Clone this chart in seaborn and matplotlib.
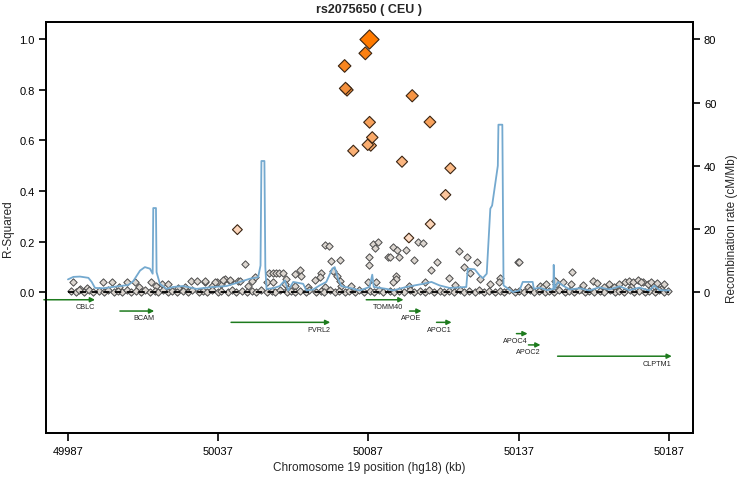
import pandas as pd
import seaborn as sns
import matplotlib.pyplot as plt
from matplotlib.colors import LinearSegmentedColormap

# SNPs with r-squared >= 0.2 (position in kb, r2 with rs2075650)
hi_pos = [50087.1, 50086.0, 50079.1, 50079.4, 50079.9, 50101.6, 50087.4, 50107.5,
          50088.3, 50086.8, 50087.8, 50082.0, 50098.2, 50114.3, 50112.7, 50107.6,
          50100.5, 50043.4]
hi_r2 = [1.0, 0.945, 0.895, 0.806, 0.80, 0.777, 0.672, 0.673,
         0.612, 0.583, 0.58, 0.559, 0.516, 0.49, 0.385, 0.269,
         0.214, 0.247]

# SNPs with low r-squared
lo_pos = [50088.5, 50090.2, 50089.1, 50095.2, 50096.5, 50099.4, 50103.5, 50105.2,
          50087.1, 50087.1, 50093.5, 50094.1, 50097.2, 50102.1, 50110.0, 50117.2,
          50119.8, 50123.2, 50118.7, 50107.9, 50121.0, 50114.0, 50115.9, 50136.8,
          50096.1, 50096.3, 50095.2, 50086.9, 50089.7, 50105.7, 50127.4, 50130.7,
          50130.5, 50124.0, 50100.5,
          50072.5, 50073.8, 50045.9, 50074.7, 50077.5, 50054.0, 50055.2, 50056.3,
          50057.4, 50058.5, 50064.2, 50062.5, 50064.7, 50071.4, 50070.8, 50069.1,
          50075.2, 50076.4, 50077.5, 50059.7, 50059.2, 50062.5, 50053.1, 50055.3,
          50049.2, 50048.1, 50047.0, 50043.6, 50040.9, 50039.2, 50038.1, 50036.5,
          50034.8, 50032.6, 50081.3, 50078.0, 50072.5, 50066.9, 50060.3,
          49988.8, 49998.7, 50001.5, 50006.8, 50009.3, 50014.8, 50018.2, 50020.4,
          50028.1, 50029.8, 50032.6, 50035.9, 50038.6, 50040.9, 50044.2, 49993.2,
          49991.0, 50004.0, 50010.5, 50016.2, 50023.6, 50026.0,
          50137.0, 50154.7, 50161.7, 50151.7, 50149.5, 50154.5, 50170.6, 50172.3,
          50173.9, 50175.0, 50176.7, 50178.4, 50180.0, 50181.1, 50185.5, 50182.2,
          50144.0, 50145.1, 50140.0, 50165.6, 50157.8, 50168.9, 50174.5, 50184.4,
          50146.3, 50149.0, 50158.6, 50163.2, 50167.1, 50177.9, 50183.0]
lo_r2 = [0.19, 0.197, 0.173, 0.177, 0.168, 0.166, 0.197, 0.194,
         0.137, 0.108, 0.137, 0.137, 0.137, 0.127, 0.12, 0.162,
         0.14, 0.12, 0.098, 0.088, 0.075, 0.055, 0.029, 0.12,
         0.065, 0.052, 0.038, 0.038, 0.041, 0.038, 0.032, 0.054,
         0.038, 0.051, 0.025,
         0.187, 0.181, 0.11, 0.124, 0.128, 0.075, 0.075, 0.075,
         0.075, 0.075, 0.088, 0.071, 0.065, 0.075, 0.058, 0.049,
         0.084, 0.065, 0.045, 0.051, 0.032, 0.025, 0.038, 0.038,
         0.058, 0.045, 0.025, 0.045, 0.045, 0.051, 0.032, 0.038,
         0.025, 0.038, 0.025, 0.025, 0.019, 0.019, 0.012,
         0.041, 0.038, 0.038, 0.041, 0.041, 0.038, 0.032, 0.032,
         0.045, 0.045, 0.045, 0.041, 0.047, 0.047, 0.045, 0.015,
         0.012, 0.02, 0.018, 0.022, 0.016, 0.02,
         0.12, 0.08, 0.045, 0.041, 0.032, 0.032, 0.032, 0.038,
         0.045, 0.038, 0.049, 0.038, 0.032, 0.041, 0.032, 0.025,
         0.025, 0.019, 0.019, 0.019, 0.012, 0.019, 0.019, 0.012,
         0.03, 0.045, 0.028, 0.035, 0.03, 0.04, 0.036]

# SNPs sitting on the baseline (r2 ~ 0)
base_pos = [49987.9, 49989.6, 49990.8, 49992.5, 49994.1, 49995.4, 49997.2, 49999.0,
            50000.3, 50002.4, 50003.5, 50005.1, 50006.5, 50008.0, 50009.7, 50011.4,
            50012.6, 50014.2, 50015.9, 50017.1, 50018.7, 50020.3, 50021.6, 50023.2,
            50025.4, 50026.8, 50028.4, 50030.6, 50031.8, 50033.3, 50035.0, 50036.9,
            50038.0, 50040.2, 50041.5, 50043.0, 50044.8, 50046.6, 50048.4, 50049.6,
            50051.2, 50053.3, 50054.9, 50056.0, 50057.7, 50059.8, 50061.2, 50062.6,
            50064.1, 50066.2, 50067.4, 50069.6, 50071.2, 50072.4, 50074.3, 50075.9,
            50077.3, 50079.2, 50080.6, 50082.7, 50084.0, 50085.5, 50087.6, 50088.8,
            50090.7, 50092.0, 50094.2, 50095.7, 50097.1, 50098.8, 50100.9, 50102.2,
            50104.1, 50105.9, 50107.2, 50108.8, 50110.9, 50112.1, 50113.8, 50115.4,
            50117.5, 50118.9, 50120.4, 50122.6, 50123.8, 50125.5, 50127.1, 50129.2,
            50130.8, 50132.1, 50133.9, 50135.8, 50137.2, 50138.8, 50140.9, 50142.2,
            50143.7, 50145.8, 50147.1, 50148.9, 50150.5, 50152.4, 50153.8, 50155.5,
            50157.1, 50159.2, 50160.4, 50162.1, 50164.2, 50165.4, 50167.5, 50169.2,
            50170.3, 50172.0, 50174.2, 50175.4, 50177.0, 50179.1, 50180.4, 50182.5,
            50183.7, 50185.4, 50186.8]
base_r2 = [0.005, 0.0, 0.01, 0.0, 0.008, 0.0, 0.004, 0.0,
           0.01, 0.0, 0.006, 0.0, 0.01, 0.0, 0.004, 0.0,
           0.008, 0.0, 0.005, 0.0, 0.01, 0.0, 0.006, 0.0,
           0.004, 0.0, 0.01, 0.0, 0.005, 0.0, 0.008, 0.0,
           0.004, 0.0, 0.01, 0.0, 0.006, 0.0, 0.005, 0.0,
           0.008, 0.0, 0.004, 0.0, 0.01, 0.0, 0.006, 0.0,
           0.005, 0.0, 0.008, 0.0, 0.004, 0.0, 0.01, 0.0,
           0.006, 0.0, 0.005, 0.0, 0.008, 0.0, 0.004, 0.0,
           0.01, 0.0, 0.006, 0.0, 0.005, 0.0, 0.008, 0.0,
           0.004, 0.0, 0.01, 0.0, 0.006, 0.0, 0.005, 0.0,
           0.008, 0.0, 0.004, 0.0, 0.01, 0.0, 0.006, 0.0,
           0.005, 0.0, 0.008, 0.0, 0.004, 0.0, 0.01, 0.0,
           0.006, 0.0, 0.005, 0.0, 0.008, 0.0, 0.004, 0.0,
           0.01, 0.0, 0.006, 0.0, 0.005, 0.0, 0.008, 0.0,
           0.004, 0.0, 0.01, 0.0, 0.006, 0.0, 0.005, 0.0,
           0.008, 0.0, 0.004]

# Recombination rate (cM/Mb)
rec_pos = [49987.0, 49988.8, 49991.0, 49993.8, 49994.9, 49996.0, 49998.7, 50004.3,
           50007.0, 50008.7, 50011.0, 50012.6, 50014.3, 50015.2, 50015.4, 50016.3,
           50016.5, 50017.6, 50019.8, 50022.0, 50025.3, 50029.8, 50035.3, 50039.8,
           50044.2, 50047.5, 50050.3, 50051.1, 50051.4, 50052.4, 50052.7, 50053.1,
           50055.3, 50057.5, 50059.2, 50060.3, 50062.0, 50065.3, 50066.4, 50068.6,
           50070.8, 50073.0, 50075.0, 50075.8, 50076.9, 50078.0, 50080.8, 50084.1,
           50087.4, 50088.3, 50088.8, 50093.0, 50095.2, 50099.6, 50105.2, 50108.0,
           50110.7, 50114.0, 50119.6, 50120.1, 50122.4, 50124.0, 50125.1, 50126.4,
           50127.6, 50128.2, 50130.1, 50130.3, 50131.6, 50132.0, 50135.1, 50137.3,
           50138.4, 50141.7, 50142.1, 50143.9, 50146.6, 50148.6, 50148.7, 50149.0,
           50150.1, 50151.7, 50154.0, 50157.3, 50160.6, 50163.9, 50167.2, 50170.6,
           50173.9, 50177.2, 50180.5, 50182.2, 50183.9, 50187.2]
rec_rate = [4.0, 4.8, 4.9, 4.5, 3.2, 1.3, 1.2, 1.9,
            2.2, 3.4, 6.8, 7.9, 7.4, 5.8, 26.6, 26.6,
            6.3, 2.6, 1.0, 1.6, 1.9, 1.0, 1.6, 1.9,
            3.2, 4.2, 4.7, 8.4, 41.5, 41.5, 8.0, 1.0,
            1.2, 1.9, 3.7, 0.5, 3.2, 2.6, 0.5, 0.8,
            2.1, 3.2, 7.4, 7.9, 4.2, 1.9, 1.3, 0.5,
            1.6, 5.5, 1.6, 1.0, 0.5, 1.6, 2.6, 3.2,
            2.1, 1.3, 1.6, 7.4, 7.2, 5.3, 4.4, 5.8,
            26.4, 27.4, 40.0, 53.0, 53.0, 2.1, 0.0, 0.5,
            3.2, 3.2, 1.0, 1.4, 0.6, 1.0, 8.6, 1.0,
            3.2, 2.1, 0.8, 1.2, 0.5, 1.5, 0.8, 1.8,
            0.6, 1.4, 0.5, 2.0, 0.6, 0.5]

# Genes: name, start, end (kb), row
gene_names = ["CBLC", "BCAM", "PVRL2", "TOMM40", "APOE", "APOC1", "APOC4", "APOC2", "CLPTM1"]
gene_start = [49979.0, 50004.3, 50041.3, 50086.3, 50100.7, 50109.7, 50136.3, 50140.3, 50150.0]
gene_end = [49996.0, 50015.7, 50074.3, 50098.7, 50104.7, 50114.7, 50140.0, 50144.3, 50188.0]
gene_row = [0, 1, 2, 0, 1, 2, 3, 4, 5]

x_ticks = [49987, 50037, 50087, 50137, 50187]

hi = pd.DataFrame({"pos": hi_pos, "r2": hi_r2}).sort_values("r2")
lo = pd.DataFrame({"pos": lo_pos + base_pos, "r2": lo_r2 + base_r2})
rec = pd.DataFrame({"pos": rec_pos, "rate": rec_rate})

sns.set_style("ticks")
plt.rcParams["font.family"] = ["Liberation Sans", "DejaVu Sans"]

fig = plt.figure(figsize=(7.4, 4.81), dpi=100)
ax = fig.add_axes([0.0622, 0.0977, 0.874, 0.8545])
ax2 = ax.twinx()

ld_cmap = LinearSegmentedColormap.from_list(
    "ld", [(0.0, "#FCDCC6"), (0.4, "#FBB57E"), (0.75, "#F4913E"), (1.0, "#FF7A00")])

# low LD points
sns.scatterplot(data=lo, x="pos", y="r2", color="#DCD6D0", marker="D", s=14,
                edgecolor="#4a4a4a", linewidth=0.7, ax=ax, zorder=2)
ax.plot([49987, 50187], [0, 0], color="black", lw=1.3, dashes=(3.5, 3), zorder=3)

# higher LD points
top = hi[hi["r2"] >= 1.0]
rest = hi[hi["r2"] < 1.0]
sns.scatterplot(data=rest, x="pos", y="r2", hue="r2", palette=ld_cmap, hue_norm=(0.2, 1.0),
                size="r2", sizes=(24, 44), size_norm=(0.2, 1.0), marker="D",
                edgecolor="#3a2412", linewidth=0.8, legend=False, ax=ax, zorder=4)
sns.scatterplot(data=top, x="pos", y="r2", color="#FF7A00", marker="D", s=95,
                edgecolor="#3a2412", linewidth=0.8, legend=False, ax=ax, zorder=5)

# recombination rate
sns.lineplot(data=rec, x="pos", y="rate", color="#74A9CF", lw=1.3, sort=False,
             estimator=None, ax=ax2)

# genes
for name, s, e, r in zip(gene_names, gene_start, gene_end, gene_row):
    y = -0.0305 - 0.0447 * r
    ax.annotate("", xy=(e, y), xytext=(s, y),
                arrowprops=dict(arrowstyle="-|>", color="#1E7B1E", lw=1.1,
                                mutation_scale=7, shrinkA=0, shrinkB=0),
                annotation_clip=False)
    ax.text(e, y - 0.027, name, ha="right", va="center", fontsize=5.2, color="#222222")

ylo, yhi = -0.558, 1.069
ax.set_xlim(49979.7, 50195.0)
ax.set_ylim(ylo, yhi)
ax2.set_ylim(ylo * 80, yhi * 80)

ax.set_yticks([0, 0.2, 0.4, 0.6, 0.8, 1.0])
ax.set_yticklabels(["0.0", "0.2", "0.4", "0.6", "0.8", "1.0"])
ax2.set_yticks([0, 20, 40, 60, 80])
ax.set_xticks(x_ticks)
ax.set_xticklabels([str(t) for t in x_ticks])

for a in (ax, ax2):
    for sp in a.spines.values():
        sp.set_visible(True)
        sp.set_linewidth(1.3)
        sp.set_color("black")
    a.tick_params(direction="out", length=5, width=1.2, labelsize=8, colors="black", pad=3)
ax.tick_params(axis="x", length=6, pad=3)

ax.set_xlabel("Chromosome 19 position (hg18) (kb)", fontsize=8.5, labelpad=4)
ax.set_ylabel("R-Squared", fontsize=8.5, labelpad=4)
ax2.set_ylabel("Recombination rate (cM/Mb)", fontsize=8.5, labelpad=7)
ax.set_title("rs2075650 ( CEU )", fontsize=9, fontweight="bold", pad=7)

fig.savefig("out.png", dpi=100)
